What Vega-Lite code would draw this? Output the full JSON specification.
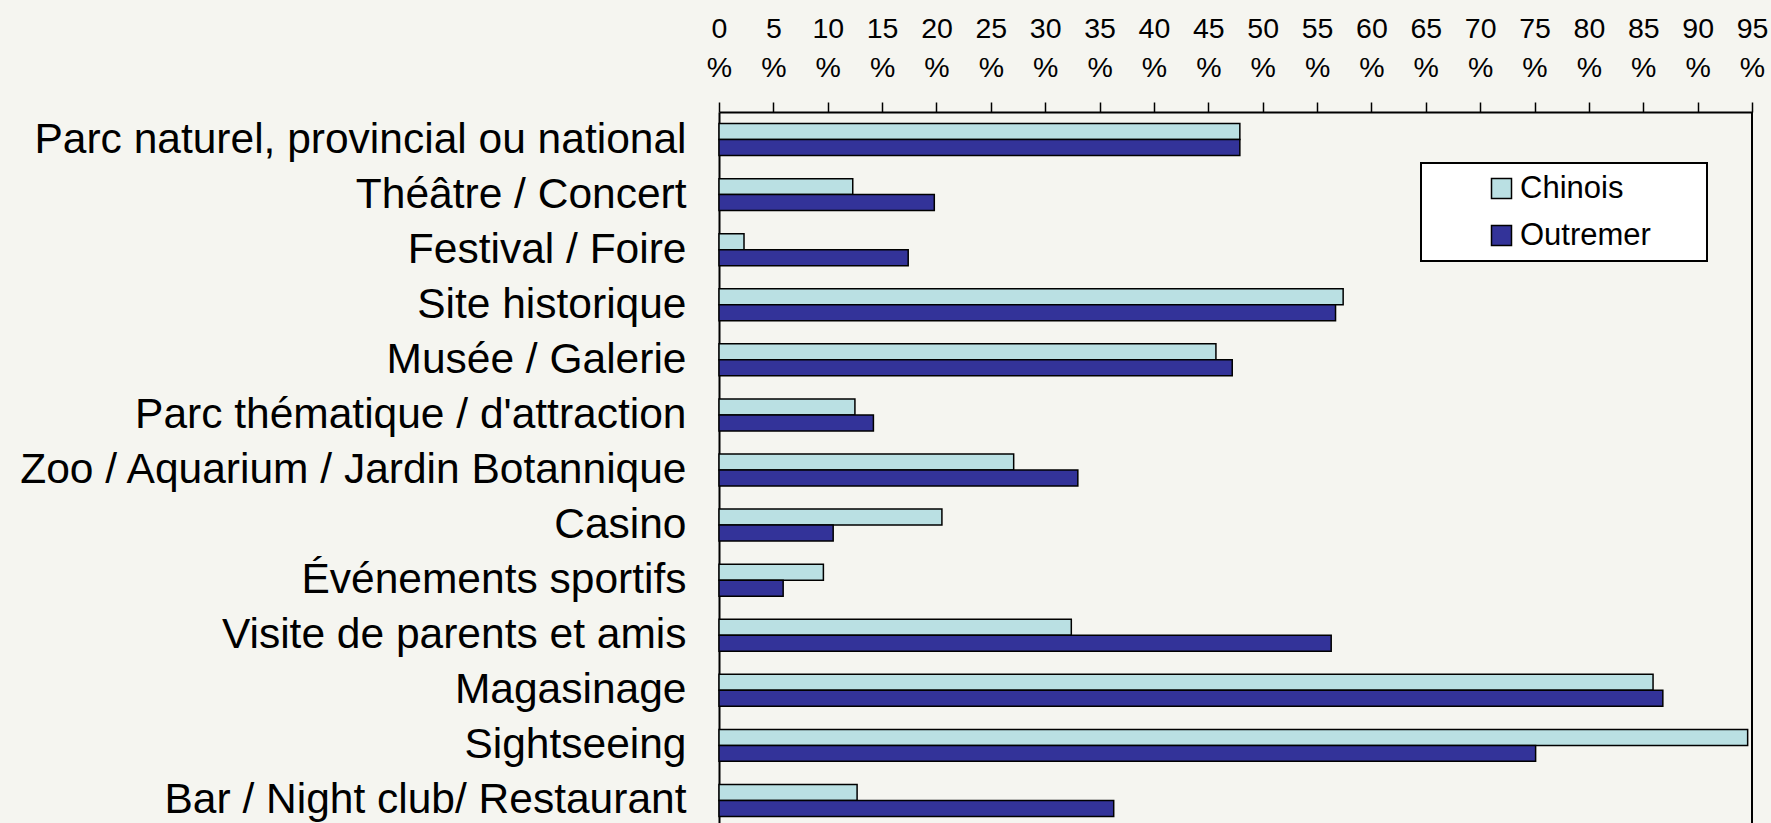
{
  "$schema": "https://vega.github.io/schema/vega-lite/v6.json",
  "autosize": {"type": "none"},
  "padding": {"left": 719, "top": 112, "right": 19, "bottom": 0},
  "width": 1033,
  "height": 711,
  "background": "#F5F5F0",
  "data": {
    "values": [
      {"activite": "Parc naturel, provincial ou national", "groupe": "Chinois", "pct": 47.9},
      {"activite": "Parc naturel, provincial ou national", "groupe": "Outremer", "pct": 47.9},
      {"activite": "Théâtre / Concert", "groupe": "Chinois", "pct": 12.3},
      {"activite": "Théâtre / Concert", "groupe": "Outremer", "pct": 19.8},
      {"activite": "Festival / Foire", "groupe": "Chinois", "pct": 2.3},
      {"activite": "Festival / Foire", "groupe": "Outremer", "pct": 17.4},
      {"activite": "Site historique", "groupe": "Chinois", "pct": 57.4},
      {"activite": "Site historique", "groupe": "Outremer", "pct": 56.7},
      {"activite": "Musée / Galerie", "groupe": "Chinois", "pct": 45.7},
      {"activite": "Musée / Galerie", "groupe": "Outremer", "pct": 47.2},
      {"activite": "Parc thématique / d'attraction", "groupe": "Chinois", "pct": 12.5},
      {"activite": "Parc thématique / d'attraction", "groupe": "Outremer", "pct": 14.2},
      {"activite": "Zoo / Aquarium / Jardin Botannique", "groupe": "Chinois", "pct": 27.1},
      {"activite": "Zoo / Aquarium / Jardin Botannique", "groupe": "Outremer", "pct": 33.0},
      {"activite": "Casino", "groupe": "Chinois", "pct": 20.5},
      {"activite": "Casino", "groupe": "Outremer", "pct": 10.5},
      {"activite": "Événements sportifs", "groupe": "Chinois", "pct": 9.6},
      {"activite": "Événements sportifs", "groupe": "Outremer", "pct": 5.9},
      {"activite": "Visite de parents et amis", "groupe": "Chinois", "pct": 32.4},
      {"activite": "Visite de parents et amis", "groupe": "Outremer", "pct": 56.3},
      {"activite": "Magasinage", "groupe": "Chinois", "pct": 85.9},
      {"activite": "Magasinage", "groupe": "Outremer", "pct": 86.8},
      {"activite": "Sightseeing", "groupe": "Chinois", "pct": 94.6},
      {"activite": "Sightseeing", "groupe": "Outremer", "pct": 75.1},
      {"activite": "Bar / Night club/ Restaurant", "groupe": "Chinois", "pct": 12.7},
      {"activite": "Bar / Night club/ Restaurant", "groupe": "Outremer", "pct": 36.3}
    ]
  },
  "layer": [
    {
      "mark": {"type": "bar", "stroke": "#000000", "strokeWidth": 1.5},
      "encoding": {
        "y": {
          "field": "activite",
          "type": "nominal",
          "sort": null,
          "scale": {"range": [0, 716], "paddingInner": 0.42, "paddingOuter": 0.21},
          "axis": {
            "title": null,
            "ticks": false,
            "domainColor": "#000000",
            "domainWidth": 2,
            "labelFontSize": 42.5,
            "labelColor": "#000000",
            "labelPadding": 33,
            "labelLimit": 760,
            "labelBaseline": "middle"
          }
        },
        "yOffset": {"field": "groupe", "type": "nominal", "sort": ["Chinois", "Outremer"]},
        "x": {
          "field": "pct",
          "type": "quantitative",
          "scale": {"domain": [0, 95], "nice": false, "zero": true},
          "axis": {
            "orient": "top",
            "title": null,
            "grid": false,
            "values": [0, 5, 10, 15, 20, 25, 30, 35, 40, 45, 50, 55, 60, 65, 70, 75, 80, 85, 90, 95],
            "labelExpr": "[datum.value + '', '%']",
            "labelFontSize": 28.5,
            "labelLineHeight": 39,
            "labelColor": "#000000",
            "labelPadding": 59,
            "labelFlush": false,
            "labelOverlap": false,
            "tickSize": 10,
            "tickWidth": 1.5,
            "tickColor": "#000000",
            "domainColor": "#000000",
            "domainWidth": 2
          }
        },
        "color": {
          "field": "groupe",
          "type": "nominal",
          "scale": {"domain": ["Chinois", "Outremer"], "range": ["#BAE0E3", "#333399"]},
          "legend": {
            "title": null,
            "orient": "none",
            "legendX": 702,
            "legendY": 51,
            "fillColor": "#FFFFFF",
            "strokeColor": "#000000",
            "padding": 10,
            "symbolType": "square",
            "symbolSize": 400,
            "symbolStrokeColor": "#000000",
            "symbolStrokeWidth": 1.5,
            "symbolOffset": 55,
            "labelOffset": 3,
            "labelFontSize": 31,
            "labelColor": "#000000",
            "labelLimit": 400,
            "labelExpr": "datum.label + '\u2800\u2800'",
            "rowPadding": 15
          }
        }
      }
    },
    {
      "mark": {"type": "rule", "color": "#000000", "strokeWidth": 2},
      "encoding": {"x": {"datum": 95}}
    }
  ],
  "config": {
    "font": "Liberation Sans",
    "view": {"stroke": null},
    "legend": {"strokeWidth": 2}
  }
}
